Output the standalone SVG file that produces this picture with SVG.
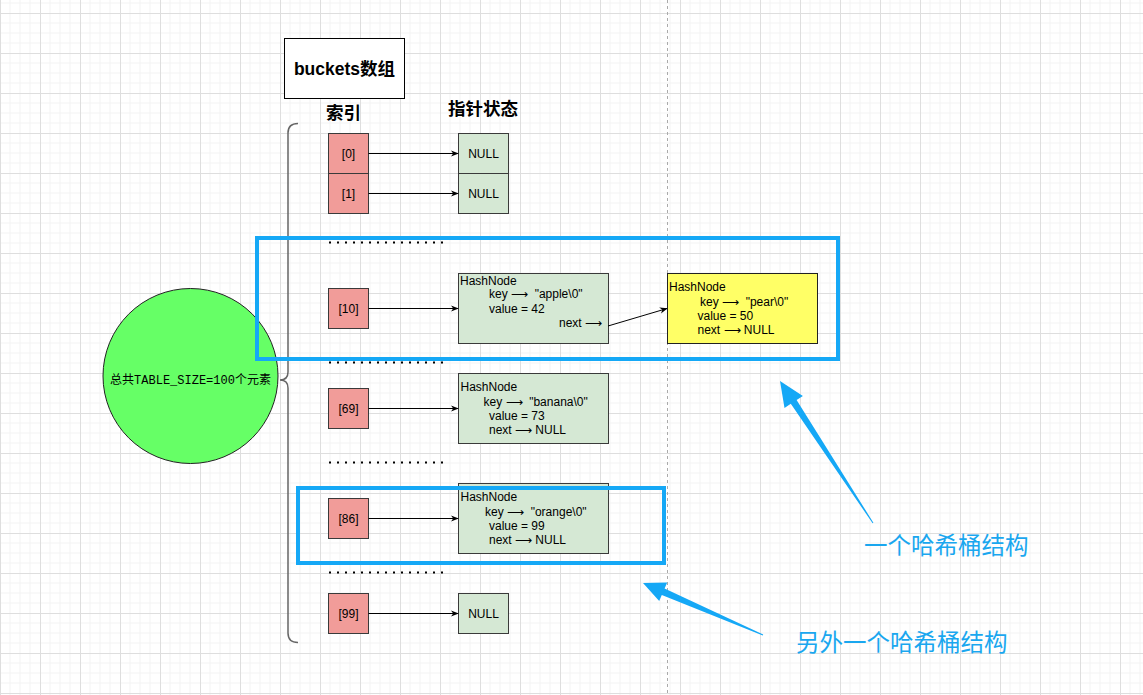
<svg xmlns="http://www.w3.org/2000/svg" width="1143" height="695" viewBox="0 0 1143 695">
<defs>
<pattern id="grid" patternUnits="userSpaceOnUse" x="0" y="13" width="40" height="40">
<rect width="40" height="40" fill="#ffffff"/>
<path d="M10 0V40M20 0V40M30 0V40M0 10H40M0 20H40M0 30H40" stroke="#f3f3f3" stroke-width="1" fill="none"/>
<path d="M0.5 0V40M0 0.5H40" stroke="#dedede" stroke-width="1" fill="none"/>
</pattern>
<marker id="ah" viewBox="0 0 10 10" refX="9" refY="5" markerWidth="8" markerHeight="8" orient="auto" markerUnits="userSpaceOnUse">
<path d="M0 1 L10 5 L0 9 L3 5 Z" fill="#000"/>
</marker>
<style>
.t{font-family:"Liberation Sans","Noto Sans CJK SC",sans-serif;font-size:12px;fill:#000}
.c{text-anchor:middle}
.h{font-family:"Liberation Sans","Noto Sans CJK SC",sans-serif;font-size:17.5px;font-weight:bold;fill:#000}
.idx{fill:#f19c99;stroke:#3a3a3a;stroke-width:1}
.nul{fill:#d5e8d4;stroke:#3a3a3a;stroke-width:1}
.conn{stroke:#000;stroke-width:1;fill:none;marker-end:url(#ah)}
.dots{stroke:#000;stroke-width:2;stroke-dasharray:2 6}
.blue{fill:none;stroke:#15a8f6;stroke-width:4}
.bt{font-family:"Noto Sans CJK SC","Noto Sans",sans-serif;font-size:23.5px;fill:#1aa7ef}
</style>
</defs>
<rect width="1143" height="695" fill="url(#grid)"/>
<line x1="667.5" y1="0" x2="667.5" y2="695" stroke="#aaaaaa" stroke-width="1" stroke-dasharray="3 3"/>

<g id="title">
<rect x="284.5" y="38.5" width="120" height="60" fill="#fff" stroke="#000"/>
<text class="h c" x="344.5" y="74.5">buckets数组</text>
</g>
<g id="hdr-index"><text class="h" x="326" y="119">索引</text></g>
<g id="hdr-state"><text class="h" x="448" y="115">指针状态</text></g>

<g id="brace">
<path d="M298,123.5 Q288,123.5 288,133 L288,372 Q288,380 280,380 Q288,380 288,388 L288,633 Q288,642.5 298,642.5" fill="none" stroke="#666" stroke-width="1.5"/>
</g>

<g id="total">
<circle cx="190.5" cy="376" r="87.5" fill="#66ff66" stroke="#222" stroke-width="1"/>
<text x="190.5" y="384" text-anchor="middle" style="font-family:'Liberation Mono','Noto Sans CJK SC',monospace;font-size:12px">总共TABLE_SIZE=100个元素</text>
</g>

<g id="idx0"><rect class="idx" x="328.5" y="133.5" width="40" height="40"/><text class="t c" x="348.5" y="157.5">[0]</text></g>
<g id="idx1"><rect class="idx" x="328.5" y="173.5" width="40" height="40"/><text class="t c" x="348.5" y="197.5">[1]</text></g>
<g id="null0"><rect class="nul" x="458.5" y="133.5" width="50" height="40"/><text class="t c" x="483.5" y="157.5">NULL</text></g>
<g id="null1"><rect class="nul" x="458.5" y="173.5" width="50" height="40"/><text class="t c" x="483.5" y="197.5">NULL</text></g>

<g id="idx10"><rect class="idx" x="328.5" y="288.5" width="40" height="40"/><text class="t c" x="348.5" y="312.5">[10]</text></g>
<g id="node-apple">
<rect class="nul" x="458.5" y="273.5" width="150" height="70"/>
<text class="t" x="460" y="284.5">HashNode</text>
<text class="t" x="489" y="298">key ⟶&#160;&#160;"apple\0"</text>
<text class="t" x="489" y="312.5">value = 42</text>
<text class="t" x="602" y="327" text-anchor="end">next ⟶</text>
</g>
<g id="node-pear">
<rect x="667.5" y="273.5" width="150" height="70" fill="#ffff66" stroke="#222"/>
<text class="t" x="669" y="291">HashNode</text>
<text class="t" x="700" y="305.5">key ⟶&#160;&#160;"pear\0"</text>
<text class="t" x="697.5" y="320">value = 50</text>
<text class="t" x="697.5" y="334">next ⟶ NULL</text>
</g>

<g id="idx69"><rect class="idx" x="328.5" y="388.5" width="40" height="40"/><text class="t c" x="348.5" y="412.5">[69]</text></g>
<g id="node-banana">
<rect class="nul" x="458.5" y="373.5" width="150" height="70"/>
<text class="t" x="460.5" y="391">HashNode</text>
<text class="t" x="483.5" y="405.5">key ⟶&#160;&#160;"banana\0"</text>
<text class="t" x="489" y="419.5">value = 73</text>
<text class="t" x="489" y="434">next ⟶ NULL</text>
</g>

<g id="idx86"><rect class="idx" x="328.5" y="498.5" width="40" height="40"/><text class="t c" x="348.5" y="522.5">[86]</text></g>
<g id="node-orange">
<rect class="nul" x="458.5" y="483.5" width="150" height="70"/>
<text class="t" x="460.5" y="500.5">HashNode</text>
<text class="t" x="485" y="515.5">key ⟶&#160;&#160;"orange\0"</text>
<text class="t" x="489" y="529.5">value = 99</text>
<text class="t" x="489" y="544">next ⟶ NULL</text>
</g>

<g id="idx99"><rect class="idx" x="328.5" y="593.5" width="40" height="40"/><text class="t c" x="348.5" y="617.5">[99]</text></g>
<g id="null99"><rect class="nul" x="458.5" y="593.5" width="50" height="40"/><text class="t c" x="483.5" y="617.5">NULL</text></g>

<g id="ellipses">
<line class="dots" x1="329" y1="242.5" x2="443" y2="242.5"/>
<line class="dots" x1="329" y1="362.5" x2="443" y2="362.5"/>
<line class="dots" x1="329" y1="462.5" x2="443" y2="462.5"/>
<line class="dots" x1="329" y1="572.5" x2="443" y2="572.5"/>
</g>

<g id="connectors">
<line class="conn" x1="368.5" y1="153.5" x2="458" y2="153.5"/>
<line class="conn" x1="368.5" y1="193.5" x2="458" y2="193.5"/>
<line class="conn" x1="368.5" y1="308.5" x2="458" y2="308.5"/>
<line class="conn" x1="608" y1="326" x2="667" y2="308.5"/>
<line class="conn" x1="368.5" y1="408.5" x2="458" y2="408.5"/>
<line class="conn" x1="368.5" y1="518.5" x2="458" y2="518.5"/>
<line class="conn" x1="368.5" y1="613.5" x2="458" y2="613.5"/>
</g>

<g id="bucket1"><rect class="blue" x="257" y="238" width="581" height="121"/></g>
<g id="bucket2"><rect class="blue" x="298" y="488" width="366" height="75"/></g>

<g id="callout1">
<polygon points="780,381 802.9,395.9 796.6,400 873.4,522.7 872.6,523.3 790.8,403.8 784.5,407.9" fill="#15a8f6"/>
<text class="bt" x="864" y="554">一个哈希桶结构</text>
</g>
<g id="callout2">
<polygon points="643,583 667.2,582.6 664.6,588.6 763.2,634.5 762.8,635.5 661.8,595 659.2,601" fill="#15a8f6"/>
<text class="bt" x="796" y="651">另外一个哈希桶结构</text>
</g>
</svg>
